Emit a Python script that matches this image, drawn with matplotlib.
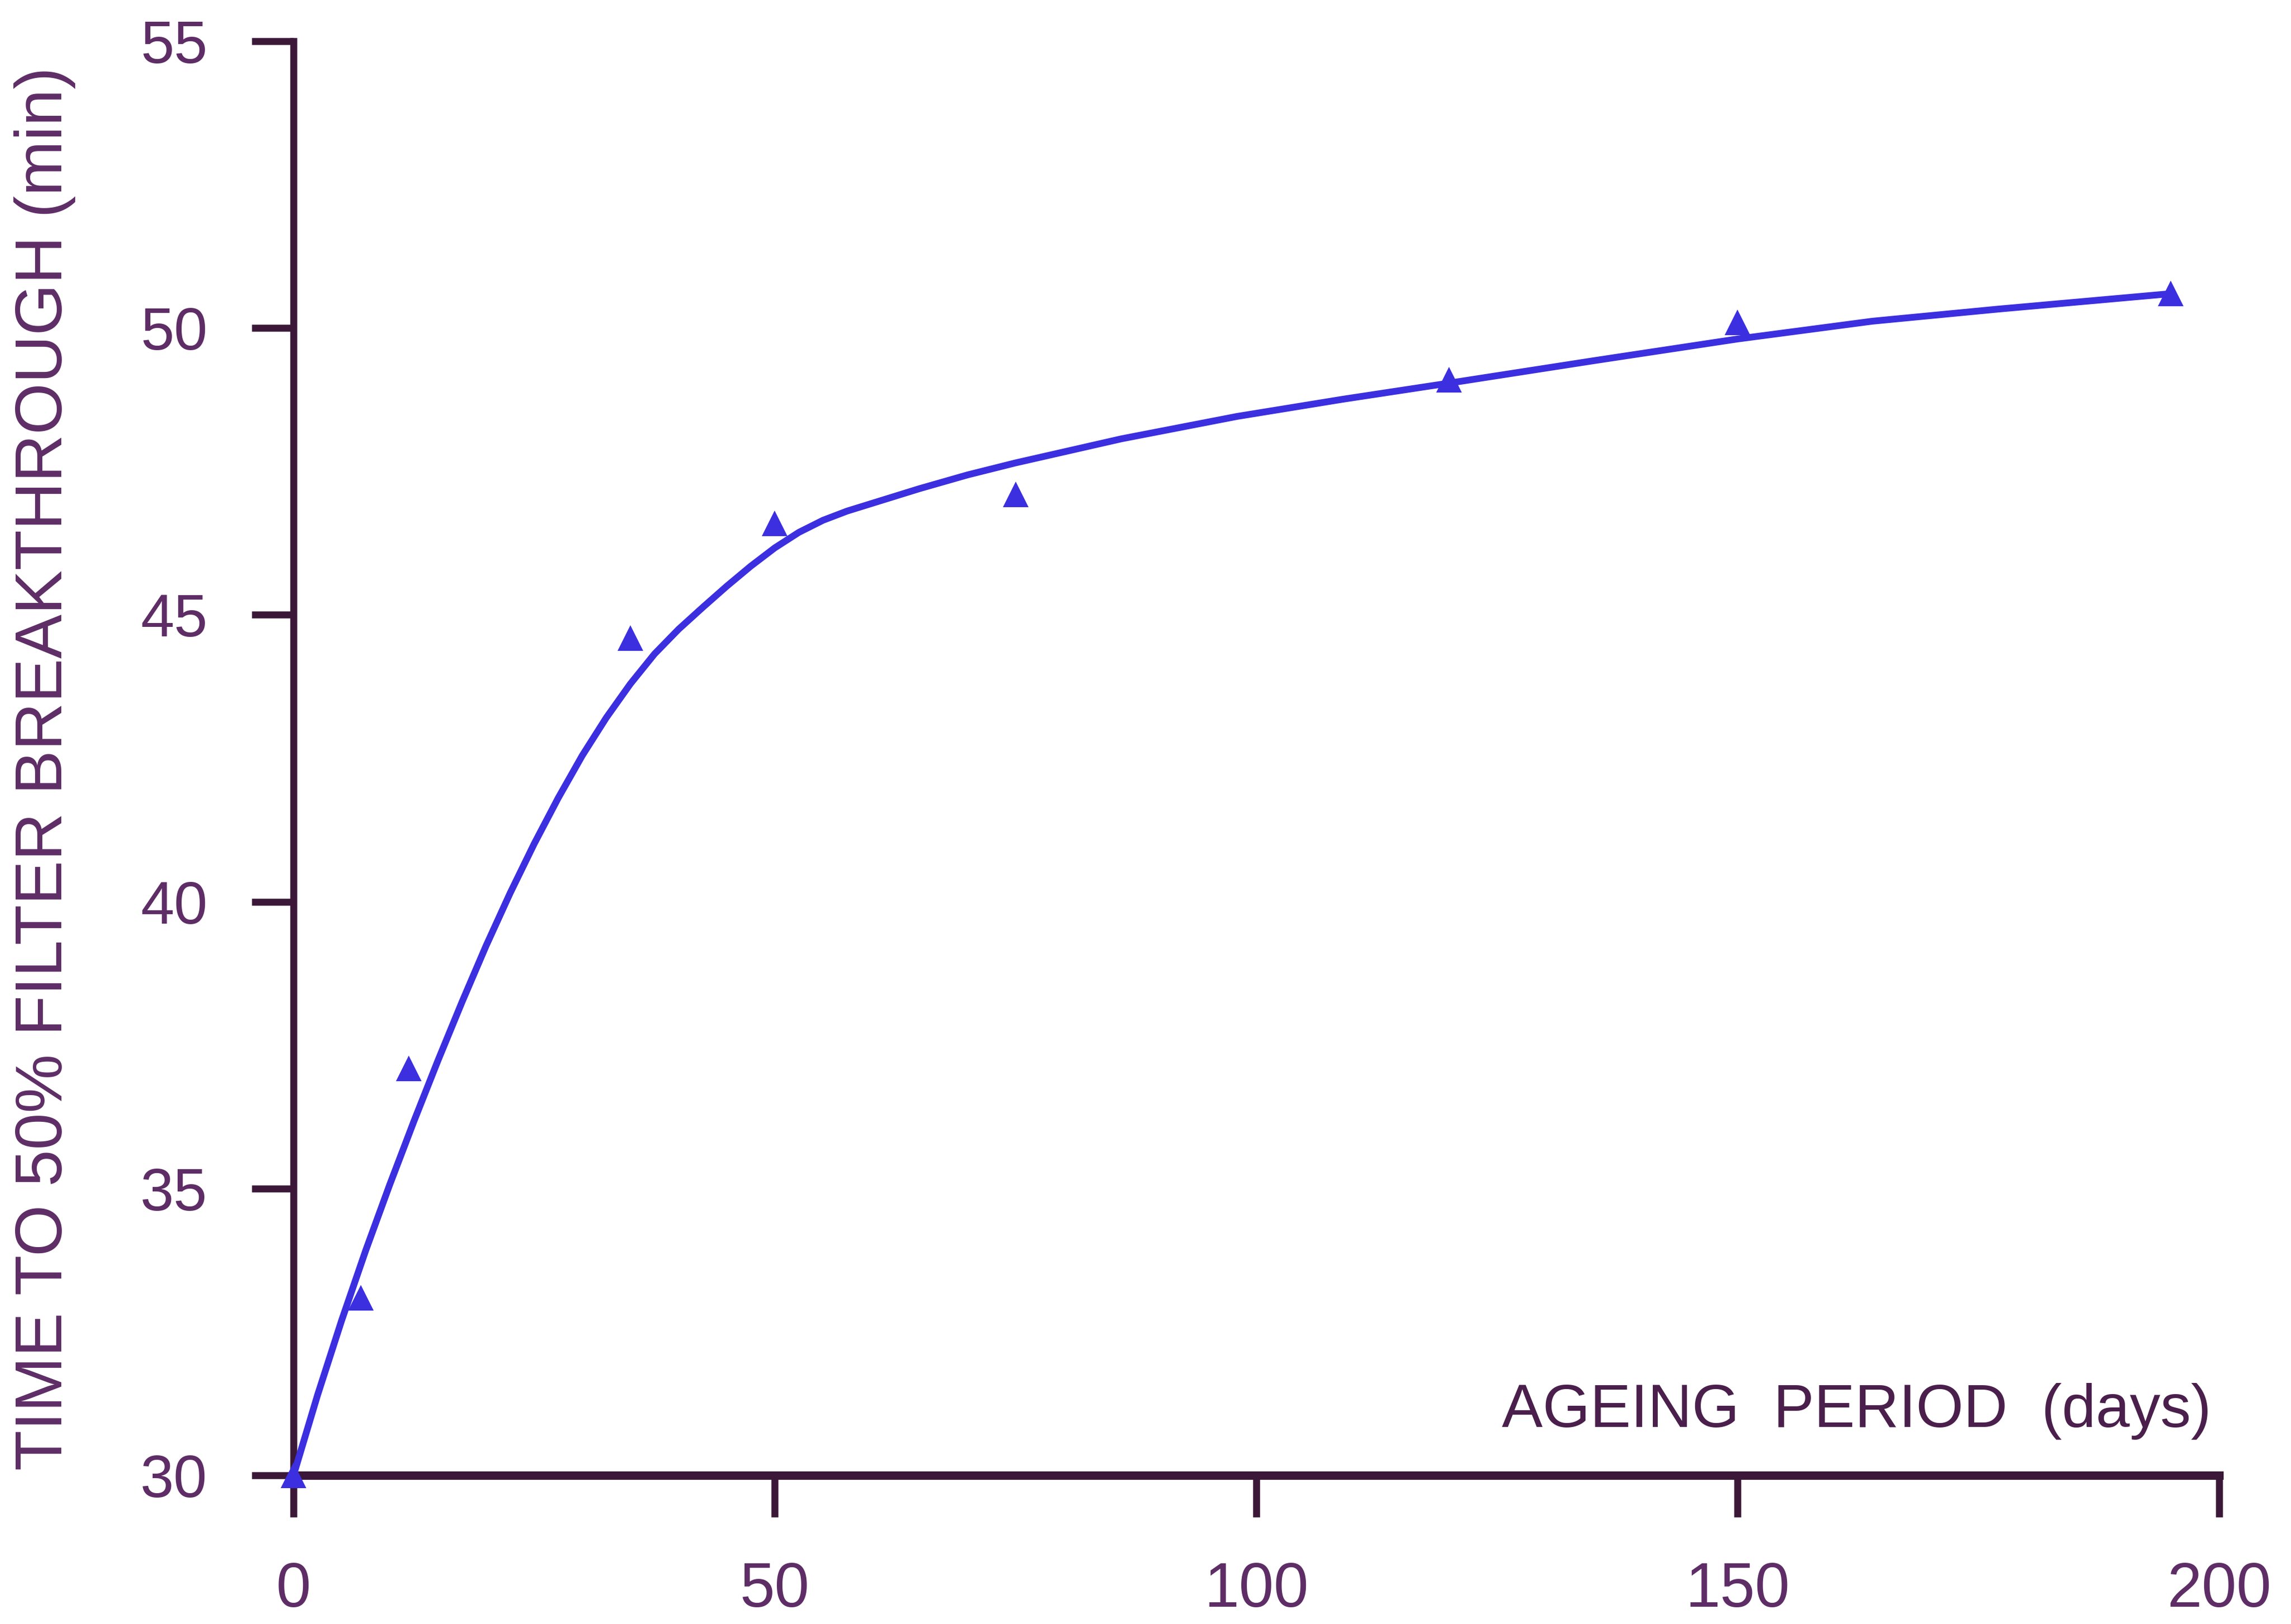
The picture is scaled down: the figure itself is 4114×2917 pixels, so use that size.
import matplotlib.pyplot as plt

# Measured breakthrough times
days = [0, 7, 12, 35, 50, 75, 120, 150, 195]
breakthrough = [30.0, 33.1, 37.1, 44.6, 46.6, 47.1, 49.1, 50.1, 50.6]

# Fitted curve, read at intervals along the ageing period
fit_days = [0, 2.5, 5, 7.5, 10, 12.5, 15, 17.5, 20, 22.5, 25, 27.5, 30,
            32.5, 35, 37.5, 40, 42.5, 45, 47.5, 50, 52.5, 55, 57.5, 60,
            65, 70, 75, 86, 98, 109, 120, 135, 150, 164, 177, 195]
fit_values = [30.0, 31.40, 32.70, 33.92, 35.07, 36.17, 37.23, 38.25, 39.23,
              40.15, 41.01, 41.81, 42.55, 43.21, 43.80, 44.32, 44.75, 45.13,
              45.50, 45.85, 46.17, 46.44, 46.65, 46.81, 46.94, 47.20, 47.44,
              47.65, 48.07, 48.46, 48.76, 49.04, 49.43, 49.81, 50.12, 50.33,
              50.60]

xticks = [0, 50, 100, 150, 200]
yticks = [30, 35, 40, 45, 50, 55]

blue = '#3b2fe0'
axis_col = '#3b1838'
text_col = '#5e2d66'

plt.rcParams['font.family'] = ['Liberation Sans', 'DejaVu Sans']

fig = plt.figure(figsize=(4114 / 300, 2917 / 300), dpi=300)
ax = fig.add_axes([0.1281, 0.0915, 0.8405, 0.8831])

ax.plot(fit_days, fit_values, color=blue, lw=2.9, solid_capstyle='round',
        solid_joinstyle='round', zorder=3)
ax.plot(days, breakthrough, linestyle='none', marker='^', ms=11, color=blue,
        markeredgewidth=0, clip_on=False, zorder=4)

ax.set_xlim(0, 200)
ax.set_ylim(30, 55)
ax.set_xticks(xticks)
ax.set_yticks(yticks)

for side in ['top', 'right']:
    ax.spines[side].set_visible(False)
ax.spines['left'].set_linewidth(3.0)
ax.spines['bottom'].set_linewidth(3.6)
for side in ['left', 'bottom']:
    ax.spines[side].set_color(axis_col)

ax.tick_params(axis='both', direction='out', length=18, width=3.0,
               color=axis_col, labelcolor=text_col, pad=19)
ax.tick_params(axis='x', labelsize=27)
ax.tick_params(axis='y', labelsize=26)

ax.text(0.996, 0.034, 'AGEING  PERIOD  (days)', transform=ax.transAxes,
        ha='right', va='baseline', fontsize=26.3, color='#4a1f4c')

fig.text(0.0195, 0.5266, 'TIME TO 50% FILTER BREAKTHROUGH (min)', rotation=90,
         ha='center', va='center', fontsize=28.5, color=text_col)

plt.savefig('out.png', dpi=300)
